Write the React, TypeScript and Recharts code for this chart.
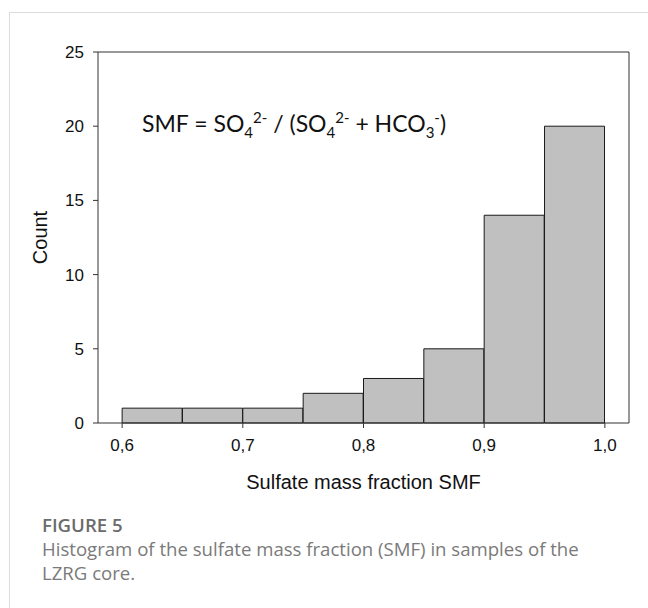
import React from 'react';
import { ComposedChart, Bar, XAxis, YAxis, Customized, ReferenceLine } from 'recharts';

const binStarts = [0.6, 0.65, 0.7, 0.75, 0.8, 0.85, 0.9, 0.95];
const counts = [1, 1, 1, 2, 3, 5, 14, 20];
const binWidth = 0.05;
const xTicks = [0.6, 0.7, 0.8, 0.9, 1.0];
const xTickLabels = ['0,6', '0,7', '0,8', '0,9', '1,0'];
const yTicks = [0, 5, 10, 15, 20, 25];
const xDomain = [0.58, 1.02];
const yDomain = [0, 25];

const data = binStarts.map((s, i) => ({ center: +(s + binWidth / 2).toFixed(3), count: counts[i] }));

const AXIS_FONT = "'Liberation Sans', Arial, sans-serif";

const Annotation = () => (
  <text x={142} y={132} fontFamily="Lato, 'Open Sans', sans-serif" fontSize={23} fill="#111">
    SMF = SO
    <tspan dy={6} fontSize={15}>4</tspan>
    <tspan dy={-15} fontSize={15}>2-</tspan>
    <tspan dy={9}> / (SO</tspan>
    <tspan dy={6} fontSize={15}>4</tspan>
    <tspan dy={-15} fontSize={15}>2-</tspan>
    <tspan dy={9}> + HCO</tspan>
    <tspan dy={6} fontSize={15}>3</tspan>
    <tspan dy={-15} fontSize={15}>-</tspan>
    <tspan dy={9}>)</tspan>
  </text>
);

const XTick = (props: any) => {
  const { x, y, payload } = props;
  const i = xTicks.findIndex((t) => Math.abs(t - payload.value) < 1e-6);
  return (
    <text x={x} y={y} dy="0.71em" textAnchor="middle" fontSize={17} fontFamily={AXIS_FONT} fill="#111">
      {i >= 0 ? xTickLabels[i] : String(payload.value)}
    </text>
  );
};

const YTick = (props: any) => {
  const { x, y, payload } = props;
  return (
    <text x={x} y={y} dy="0.355em" textAnchor="end" fontSize={17} fontFamily={AXIS_FONT} fill="#111">
      {String(payload.value)}
    </text>
  );
};

export default function App() {
  return (
    <div style={{ position: 'absolute', left: 0, top: 0, width: 648, height: 608, background: '#fff', overflow: 'hidden' }}>
      <div style={{ position: 'absolute', left: 9, top: 12, width: 700, height: 700, borderTop: '1px solid #dcdcdc', borderLeft: '1px solid #dcdcdc' }} />
      <div style={{ position: 'absolute', left: 0, top: 0 }}>
        <ComposedChart
          width={648}
          height={608}
          data={data}
          margin={{ top: 52, right: 19, left: 0, bottom: 125 }}
          barCategoryGap={0}
          barGap={0}
        >
          <XAxis
            xAxisId="x"
            dataKey="center"
            type="number"
            domain={xDomain}
            ticks={xTicks}
            height={60}
            tickSize={5}
            tickMargin={11}
            stroke="#333"
            tick={<XTick />}
            tickLine={{ stroke: '#333' }}
            allowDataOverflow
            label={{
              content: (props: any) => {
                const vb = props.viewBox || {};
                return (
                  <text x={vb.x + vb.width / 2} y={vb.y + 65.5} textAnchor="middle" fontSize={20} fontFamily={AXIS_FONT} fill="#111">
                    Sulfate mass fraction SMF
                  </text>
                );
              },
            }}
          />
          <YAxis
            yAxisId="y"
            type="number"
            domain={yDomain}
            ticks={yTicks}
            width={98}
            tickSize={5}
            tickMargin={9}
            stroke="#333"
            tick={<YTick />}
            tickLine={{ stroke: '#333' }}
            label={{
              content: (props: any) => {
                const vb = props.viewBox || {};
                const cx = 40;
                const cy = vb.y + vb.height / 2;
                return (
                  <text x={cx} y={cy} transform={`rotate(-90, ${cx}, ${cy})`} textAnchor="middle" dominantBaseline="central" fontSize={20} fontFamily={AXIS_FONT} fill="#111">
                    Count
                  </text>
                );
              },
            }}
          />
          <ReferenceLine xAxisId="x" yAxisId="y" y={yDomain[1]} stroke="#333" strokeWidth={1} />
          <ReferenceLine xAxisId="x" yAxisId="y" x={xDomain[1]} stroke="#333" strokeWidth={1} />
          <Bar xAxisId="x" yAxisId="y" dataKey="count" fill="#c0c0c0" stroke="#1a1a1a" strokeWidth={1} isAnimationActive={false} />
          <Customized component={Annotation} />
        </ComposedChart>
      </div>
      <div style={{ position: 'absolute', left: 42, top: 513, fontFamily: "'Open Sans', sans-serif", fontSize: 18.6, fontWeight: 600, color: '#6b6b6b', lineHeight: '24px', whiteSpace: 'nowrap' }}>
        FIGURE 5
      </div>
      <div style={{ position: 'absolute', left: 42, top: 537, width: 600, fontFamily: "'Open Sans', sans-serif", fontSize: 18.6, fontWeight: 400, color: '#7a7a7a', lineHeight: '24px', whiteSpace: 'nowrap' }}>
        Histogram of the sulfate mass fraction (SMF) in samples of the
        <br />
        LZRG core.
      </div>
    </div>
  );
}
